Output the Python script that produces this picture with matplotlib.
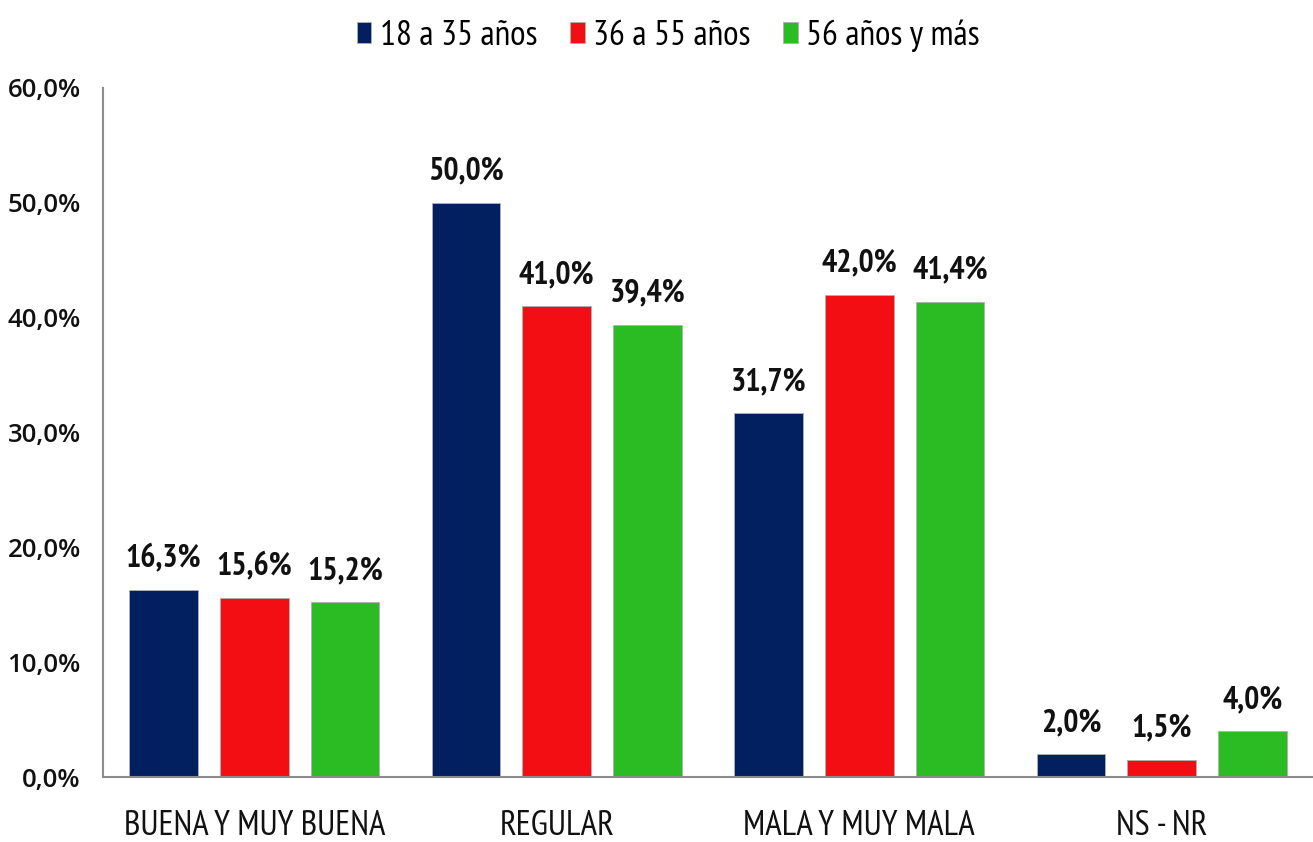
import matplotlib
matplotlib.use("Agg")
import matplotlib.pyplot as plt
import numpy as np
from matplotlib.ticker import FuncFormatter

categories = ["BUENA Y MUY BUENA", "REGULAR", "MALA Y MUY MALA", "NS - NR"]
series_names = ["18 a 35 años", "36 a 55 años", "56 años y más"]
s18_35 = [16.3, 50.0, 31.7, 2.0]
s36_55 = [15.6, 41.0, 42.0, 1.5]
s56 = [15.2, 39.4, 41.4, 4.0]
colors = ["#02205F", "#F20E12", "#2BBB22"]

narrow = ["PT Sans Narrow", "Archivo Narrow", "DejaVu Sans"]
tickfont = ["Open Sans", "DejaVu Sans"]

fig = plt.figure(figsize=(13.13, 8.42), dpi=100)
ax = fig.add_axes([103/1313, 1 - 777/842, 1 - 103/1313, (777 - 88)/842])

x = np.arange(len(categories))
w = 0.228
off = 0.30
for i, (vals, c, name) in enumerate(zip([s18_35, s36_55, s56], colors, series_names)):
    pos = x + (i - 1) * off
    ax.bar(pos, vals, width=w, color=c, edgecolor="#b0b0b0", linewidth=0.6, label=name, zorder=2)
    for p, v in zip(pos, vals):
        ax.text(p, v + 1.4, f"{v:.1f}".replace(".", ",") + "%", ha="center", va="bottom",
                fontsize=23, fontweight="bold", family=narrow, color="#111111")

ax.set_xlim(-0.5, 3.5)
ax.set_ylim(0, 60)
ax.set_yticks(np.arange(0, 61, 10))
ax.yaxis.set_major_formatter(FuncFormatter(lambda v, p: f"{v:.1f}".replace(".", ",") + "%"))
ax.set_xticks(x)
ax.set_xticklabels(categories, fontsize=25, family=narrow, color="#111111")
ax.tick_params(axis="y", length=0, pad=16, labelsize=18.5, labelcolor="#111111")
for lab in ax.get_yticklabels():
    lab.set_fontweight("semibold")
    lab.set_family(tickfont)
ax.tick_params(axis="x", length=0, pad=24)
for s in ["top", "right"]:
    ax.spines[s].set_visible(False)
ax.spines["left"].set_color("#8c8c8c")
ax.spines["bottom"].set_color("#8c8c8c")
ax.spines["left"].set_linewidth(1.5)
ax.spines["bottom"].set_linewidth(1.5)

handles, labels = ax.get_legend_handles_labels()
fig.legend(handles, labels, loc="upper center", bbox_to_anchor=(0.509, 1.015), ncol=3, frameon=False,
           prop={"family": narrow, "size": 25.5}, handlelength=0.42, handleheight=0.55,
           handletextpad=0.25, columnspacing=0.9)

fig.savefig("out.png", dpi=100)
